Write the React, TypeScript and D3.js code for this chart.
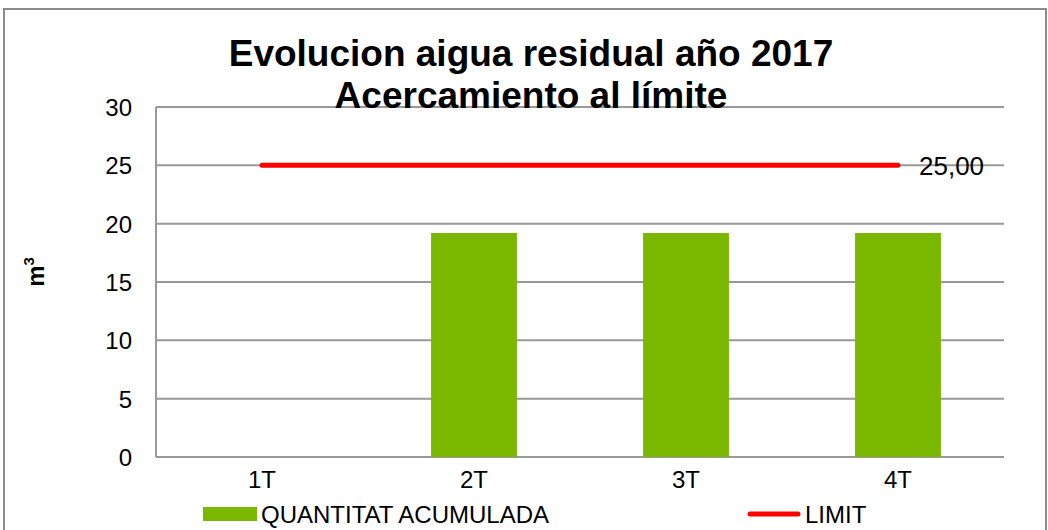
import React, { useEffect, useRef } from 'react';
import * as d3 from 'd3';

const categories = ['1T', '2T', '3T', '4T'];
const quantitat = [null, 19.2, 19.2, 19.2];
const limit = [25, 25, 25, 25];
const yTicks = [0, 5, 10, 15, 20, 25, 30];

const App: React.FC = () => {
  const svgRef = useRef<SVGSVGElement>(null);

  useEffect(() => {
    if (!svgRef.current) return;
    const svg = d3.select(svgRef.current);
    svg.selectAll('*').remove();

    const W = 1048;
    const H = 530;
    const margin = { top: 107, right: 44, bottom: 73, left: 156 };
    const width = W - margin.left - margin.right;
    const height = H - margin.top - margin.bottom;
    const font = 'Liberation Sans, Arial, sans-serif';

    svg.attr('width', W).attr('height', H);

    // outer frame
    svg.append('rect')
      .attr('x', 4).attr('y', 9)
      .attr('width', W - 6).attr('height', H + 10)
      .attr('fill', '#fff')
      .attr('stroke', '#8c8c8c')
      .attr('stroke-width', 2);

    const g = svg.append('g').attr('transform', `translate(${margin.left},${margin.top})`);

    const x = d3.scaleBand().domain(categories).range([0, width]).paddingInner(0.595).paddingOuter(0.2975);
    const xc = (c: string) => (x(c) || 0) + x.bandwidth() / 2;
    const y = d3.scaleLinear().domain([0, 30]).range([height, 0]);

    // gridlines
    g.selectAll('.grid')
      .data(yTicks)
      .enter()
      .append('line')
      .attr('x1', 0).attr('x2', width)
      .attr('y1', d => y(d)).attr('y2', d => y(d))
      .attr('stroke', '#999')
      .attr('stroke-width', 2);

    g.append('line')
      .attr('x1', 0).attr('x2', 0)
      .attr('y1', 0).attr('y2', height)
      .attr('stroke', '#999')
      .attr('stroke-width', 2);

    // y tick labels
    g.selectAll('.ytick')
      .data(yTicks)
      .enter()
      .append('text')
      .attr('x', -24)
      .attr('y', d => y(d) + 9)
      .attr('text-anchor', 'end')
      .style('font-family', font)
      .style('font-size', '24px')
      .text(d => d);

    // bars
    g.selectAll('.bar')
      .data(categories.map((c, i) => ({ c, v: quantitat[i] })).filter(d => d.v != null))
      .enter()
      .append('rect')
      .attr('x', d => x(d.c) || 0)
      .attr('y', d => y(d.v as number))
      .attr('width', x.bandwidth())
      .attr('height', d => height - y(d.v as number))
      .attr('fill', '#7ab800');

    // limit line
    const line = d3.line<number>()
      .x((d, i) => xc(categories[i]))
      .y(d => y(d));
    g.append('path')
      .datum(limit)
      .attr('d', line)
      .attr('fill', 'none')
      .attr('stroke', '#ff0000')
      .attr('stroke-width', 5)
      .attr('stroke-linecap', 'round');

    g.append('text')
      .attr('x', xc(categories[3]) + 21)
      .attr('y', y(limit[3]) + 10)
      .style('font-family', font)
      .style('font-size', '26px')
      .text(limit[3].toFixed(2).replace('.', ','));

    // x labels
    g.selectAll('.xlab')
      .data(categories)
      .enter()
      .append('text')
      .attr('x', d => xc(d))
      .attr('y', height + 31)
      .attr('text-anchor', 'middle')
      .style('font-family', font)
      .style('font-size', '24px')
      .text(d => d);

    // y axis title
    const yt = svg.append('text')
      .attr('transform', `translate(44,272) rotate(-90)`)
      .attr('text-anchor', 'middle')
      .style('font-family', font)
      .style('font-size', '24px')
      .style('font-weight', 'bold');
    yt.append('tspan').text('m');
    yt.append('tspan').attr('dy', -10).style('font-size', '15px').text('3');

    // title
    const title = ['Evolucion aigua residual año 2017', 'Acercamiento al límite'];
    svg.selectAll('.title')
      .data(title)
      .enter()
      .append('text')
      .attr('x', 531)
      .attr('y', (d, i) => 66 + i * 42)
      .attr('text-anchor', 'middle')
      .style('font-family', font)
      .style('font-size', '37px')
      .style('font-weight', 'bold')
      .text(d => d);

    // legend
    svg.append('rect')
      .attr('x', 203).attr('y', 507)
      .attr('width', 54).attr('height', 14)
      .attr('fill', '#7ab800');
    svg.append('text')
      .attr('x', 261).attr('y', 523)
      .style('font-family', font)
      .style('font-size', '24px')
      .text('QUANTITAT ACUMULADA');
    svg.append('line')
      .attr('x1', 750).attr('x2', 798)
      .attr('y1', 514).attr('y2', 514)
      .attr('stroke', '#ff0000')
      .attr('stroke-width', 5)
      .attr('stroke-linecap', 'round');
    svg.append('text')
      .attr('x', 805).attr('y', 523)
      .style('font-family', font)
      .style('font-size', '24px')
      .text('LIMIT');
  }, []);

  return <svg ref={svgRef} style={{ position: 'absolute', left: 0, top: 0 }}></svg>;
};

export default App;
